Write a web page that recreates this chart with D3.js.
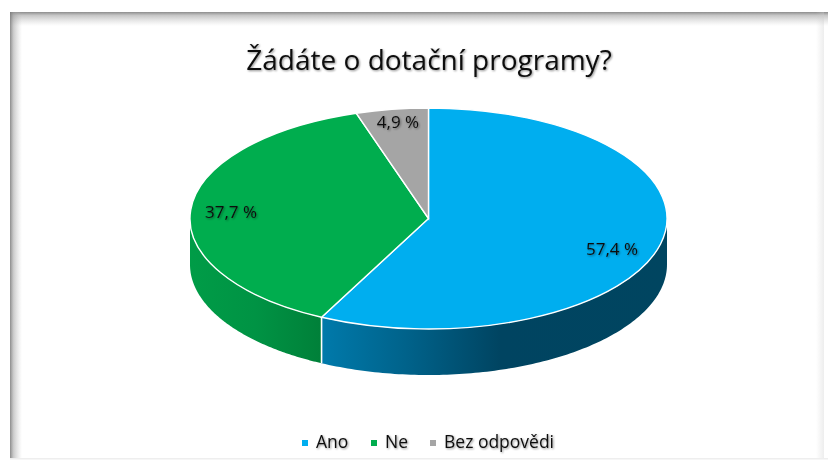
<!DOCTYPE html>
<html><head><meta charset="utf-8">
<script src="https://cdnjs.cloudflare.com/ajax/libs/d3/7.8.5/d3.min.js"></script>
<style>html,body{margin:0;padding:0;background:#fff}svg{display:block}text{font-family:"Open Sans","Noto Sans",sans-serif;fill:#111}</style>
</head><body><svg id="c" width="828" height="463"></svg>
<script>
const chartTitle = "Žádáte o dotační programy?";
const categories = ["Ano", "Ne", "Bez odpovědi"];
const values = [57.4, 37.7, 4.9];
const valueLabels = ["57,4 %", "37,7 %", "4,9 %"];
const colors = ["#00AEEF", "#00AD4E", "#A5A5A5"];

const W = 828, H = 463, cx = 428.5, cy = 218.5, rx = 238.5, ry = 110.5, depth = 46;
const labelPos = [[612, 255], [231, 218], [398, 128]];
const legendMarkerX = [305, 374, 433], legendY = 443;

const svg = d3.select("#c");
const defs = svg.append("defs");
function grad(id, stops, x1, y1, x2, y2) {
  const g = defs.append("linearGradient").attr("id", id)
    .attr("x1", x1).attr("y1", y1).attr("x2", x2).attr("y2", y2);
  stops.forEach(s => g.append("stop").attr("offset", s[0]).attr("stop-color", s[1]).attr("stop-opacity", s[2]));
}
grad("fTop", [[0, "#777", .85], [.25, "#999", .55], [1, "#bbb", 0]], 0, 0, 0, 1);
grad("fLeft", [[0, "#777", .85], [.3, "#999", .5], [1, "#bbb", 0]], 0, 0, 1, 0);
grad("fRight", [[0, "#ccc", 0], [1, "#ccc", .35]], 0, 0, 1, 0);
defs.append("linearGradient").attr("id", "wall0").attr("gradientUnits", "userSpaceOnUse")
  .attr("x1", 321).attr("x2", 667).attr("y1", 0).attr("y2", 0)
  .call(g => [[0, "#007AAB"], [.25, "#00628A"], [.52, "#004461"], [1, "#004560"]]
    .forEach(s => g.append("stop").attr("offset", s[0]).attr("stop-color", s[1])));
defs.append("linearGradient").attr("id", "wall1").attr("gradientUnits", "userSpaceOnUse")
  .attr("x1", 190).attr("x2", 321).attr("y1", 0).attr("y2", 0)
  .call(g => [[0, "#009C47"], [.5, "#009344"], [1, "#008039"]]
    .forEach(s => g.append("stop").attr("offset", s[0]).attr("stop-color", s[1])));
defs.append("filter").attr("id", "soft").attr("x", "-5%").attr("y", "-20%").attr("width", "110%").attr("height", "150%")
  .call(f => {
    f.append("feGaussianBlur").attr("in", "SourceAlpha").attr("stdDeviation", .9).attr("result", "b");
    f.append("feOffset").attr("in", "b").attr("dx", .8).attr("dy", 1.2).attr("result", "o");
    f.append("feComponentTransfer").attr("in", "o").attr("result", "t")
      .append("feFuncA").attr("type", "linear").attr("slope", .45);
    const m = f.append("feMerge");
    m.append("feMergeNode").attr("in", "t");
    m.append("feMergeNode").attr("in", "SourceGraphic");
  });

// picture frame with its inner shadow
svg.append("rect").attr("x", 10).attr("y", 12).attr("width", W - 10).attr("height", 14).attr("fill", "url(#fTop)");
svg.append("rect").attr("x", 10).attr("y", 12).attr("width", 12).attr("height", 446).attr("fill", "url(#fLeft)");
svg.append("rect").attr("x", 816).attr("y", 12).attr("width", 8).attr("height", 446).attr("fill", "url(#fRight)");
svg.append("rect").attr("x", 10).attr("y", 458).attr("width", W - 10).attr("height", 1.5).attr("fill", "#eee");

svg.append("text").attr("x", 429).attr("y", 70).attr("text-anchor", "middle")
  .attr("font-size", 28).attr("filter", "url(#soft)").text(chartTitle);

const pie = d3.pie().sort(null).value(d => d);
const arcs = pie(values);
const ptX = a => cx + rx * Math.sin(a), ptY = a => cy - ry * Math.cos(a);

// front walls: visible portion is where the angle lies between 90° and 270°
const wall = d3.area().x(a => ptX(a)).y0(a => ptY(a)).y1(a => ptY(a) + depth);
const walls = svg.append("g");
arcs.forEach((d, i) => {
  const s = Math.max(d.startAngle, Math.PI / 2), e = Math.min(d.endAngle, Math.PI * 1.5);
  if (e <= s) return;
  walls.append("path").attr("d", wall(d3.range(0, 121).map(k => s + (e - s) * k / 120)))
    .attr("fill", `url(#wall${i})`);
});
const seam = arcs[0].endAngle;
walls.append("line").attr("x1", ptX(seam)).attr("x2", ptX(seam))
  .attr("y1", ptY(seam)).attr("y2", ptY(seam) + depth).attr("stroke", "#fff").attr("stroke-width", 1.6);

// top face
const arc = d3.arc().innerRadius(0).outerRadius(rx);
svg.append("g").attr("transform", `translate(${cx},${cy}) scale(1,${ry / rx})`)
  .selectAll("path").data(arcs).join("path")
  .attr("d", arc).attr("fill", (d, i) => colors[i])
  .attr("stroke", "#fff").attr("stroke-width", 1.4).attr("vector-effect", "non-scaling-stroke");

svg.append("g").selectAll("text").data(valueLabels).join("text")
  .attr("x", (d, i) => labelPos[i][0]).attr("y", (d, i) => labelPos[i][1])
  .attr("text-anchor", "middle").attr("font-size", 17).attr("filter", "url(#soft)").text(d => d);

const lg = svg.append("g").selectAll("g").data(categories).join("g");
lg.append("rect").attr("x", (d, i) => legendMarkerX[i] - 3).attr("y", legendY - 3)
  .attr("width", 6).attr("height", 6).attr("fill", (d, i) => colors[i]);
lg.append("text").attr("x", (d, i) => legendMarkerX[i] + 11).attr("y", legendY + 5)
  .attr("font-size", 17.5).attr("filter", "url(#soft)").text(d => d);
</script></body></html>
